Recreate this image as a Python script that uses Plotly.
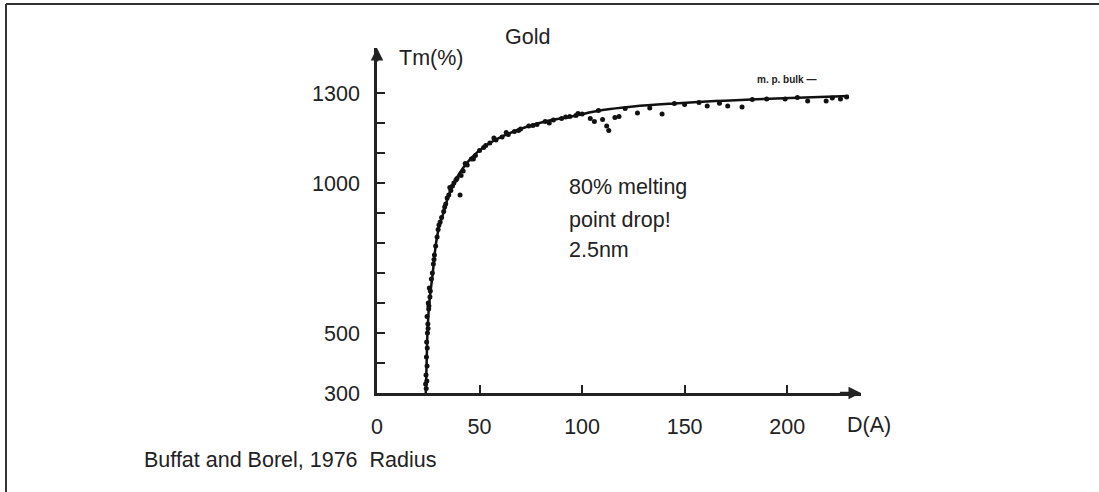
import plotly.graph_objects as go

# ---- data ----
curve_D = [23.8, 24.2, 24.6, 25.5, 27.2, 28.8, 30.5, 32.4, 34.5, 36.5, 40, 44, 48, 53, 58, 64,
           72, 82, 95, 110, 125, 145, 165, 185, 205, 230]
curve_T = [300, 400, 500, 600, 700, 800, 860, 900, 950, 985, 1030, 1068, 1097, 1124, 1145, 1164,
           1185, 1205, 1222, 1243, 1255, 1265, 1273, 1279, 1284, 1290]

pts_D = [24.0, 24.3, 23.9, 24.4, 24.1, 24.5, 24.2, 24.6, 24.8, 24.4, 25.2, 25.0, 25.8, 25.5, 26.5,
         27.0, 27.5, 28.0, 28.6, 29.3, 29.8, 30.8, 31.5, 32.5, 33.5, 34.2, 35.0, 36.0, 36.8, 37.5,
         40.5, 39.0, 41.0, 42.0, 44.0, 46.0, 48.0, 50.0, 52.0, 55.0, 58.0, 61.0, 64.0, 67.0, 70.0,
         74.0, 78.0, 82.0, 86.0, 90.0, 94.0, 97.0, 100.0, 104.0, 106.0, 110.0, 112.0, 113.0, 116.0,
         118.0, 127.0, 139.0, 150.0, 161.0, 167.0, 171.0, 178.0, 190.0, 199.0, 210.0, 219.0, 222.0,
         226.0, 229.0, 23.7, 24.9, 25.3, 26.0, 27.8, 30.2, 33.0, 35.5, 38.5, 43.0, 47.0, 53.0, 57.0,
         63.0, 69.0, 76.0, 84.0, 92.0, 98.0, 108.0, 121.0, 133.0, 145.0, 157.0, 183.0, 205.0]
pts_T = [315, 340, 360, 390, 420, 450, 470, 500, 530, 555, 580, 600, 620, 650, 680,
         700, 730, 760, 790, 820, 845, 870, 885, 905, 930, 950, 960, 975, 990, 1000,
         960, 1015, 1025, 1040, 1060, 1080, 1092, 1108, 1118, 1133, 1143, 1153, 1162, 1172, 1180,
         1190, 1195, 1205, 1210, 1215, 1222, 1225, 1230, 1215, 1205, 1212, 1190, 1175, 1218,
         1222, 1233, 1230, 1262, 1257, 1266, 1257, 1253, 1280, 1280, 1273, 1273, 1283,
         1280, 1287, 330, 515, 590, 640, 745, 860, 920, 985, 1010, 1065, 1080, 1125, 1150,
         1168, 1175, 1192, 1200, 1220, 1232, 1242, 1248, 1250, 1265, 1268, 1278, 1285]

y_tickvals = [300, 400, 500, 600, 700, 800, 900, 1000, 1100, 1200, 1300]
y_ticktext = ["300", "", "500", "", "", "", "", "1000", "", "", "1300"]
x_tickvals = [0, 50, 100, 150, 200]
x_ticktext = ["0", "50", "100", "150", "200"]

# ---- layout geometry (pixels) ----
W, H = 1099, 492
L, R, T, B = 377, 861, 48, 393


def px(x):
    return (x - L) / (R - L)


def py(y):
    return (B - y) / (B - T)


FONT = "Liberation Sans, Arial, sans-serif"
FS = 21.5
INK = "#222222"

fig = go.Figure()
fig.add_trace(go.Scatter(x=curve_D, y=curve_T, mode="lines",
                         line=dict(color="#111111", width=2.5, shape="spline", smoothing=1.0),
                         cliponaxis=False, showlegend=False))
fig.add_trace(go.Scatter(x=pts_D, y=pts_T, mode="markers",
                         marker=dict(color="#111111", size=5, symbol="circle"),
                         cliponaxis=False, showlegend=False))

fig.update_layout(
    width=W, height=H,
    margin=dict(l=L, r=W - R, t=T, b=H - B, pad=0),
    paper_bgcolor="white", plot_bgcolor="white",
    font=dict(family=FONT, size=FS, color=INK),
    xaxis=dict(range=[0, 236], showgrid=False, zeroline=False, showline=True,
               linecolor=INK, linewidth=2.5, ticks="inside", ticklen=8, tickwidth=2,
               tickcolor=INK, tickvals=x_tickvals, ticktext=x_ticktext,
               ticklabelstandoff=12, tickfont=dict(family=FONT, size=FS, color=INK)),
    yaxis=dict(range=[300, 1450], showgrid=False, zeroline=False, showline=True,
               linecolor=INK, linewidth=2.5, ticks="inside", ticklen=8, tickwidth=2,
               tickcolor=INK, tickvals=y_tickvals, ticktext=y_ticktext,
               ticklabelstandoff=10, tickfont=dict(family=FONT, size=FS, color=INK)),
)

ann = []
# axis arrows
ann.append(dict(x=236, y=300, ax=225, ay=300, xref="x", yref="y", axref="x", ayref="y",
                text="", showarrow=True, arrowhead=2, arrowsize=1, arrowwidth=2.5, arrowcolor=INK))
ann.append(dict(x=0, y=1450, ax=0, ay=1400, xref="x", yref="y", axref="x", ayref="y",
                text="", showarrow=True, arrowhead=2, arrowsize=1, arrowwidth=2.5, arrowcolor=INK))


def text(s, x, y, size=FS, xanchor="center", yanchor="middle", bold=False):
    ann.append(dict(text=("<b>%s</b>" % s) if bold else s, x=px(x), y=py(y), xref="paper", yref="paper",
                    xanchor=xanchor, yanchor=yanchor, showarrow=False,
                    font=dict(family=FONT, size=size, color=INK)))


text("Gold", 527, 37)
text("Tm(%)", 431, 58)
text("80% melting", 567, 187, xanchor="left")
text("point drop!", 567, 220, xanchor="left")
text("2.5nm", 567, 250, xanchor="left")
text("m. p. bulk \u2014", 755, 80, size=10, xanchor="left", bold=True)
text("D(A)", 869, 425)
text("Buffat and Borel, 1976\u00a0\u00a0Radius", 142, 460, xanchor="left")

fig.update_layout(annotations=ann)

# frame lines (left and top)
fig.add_shape(type="line", xref="paper", yref="paper", x0=px(6), x1=px(W), y0=py(4), y1=py(4),
              line=dict(color="#333333", width=2))
fig.add_shape(type="line", xref="paper", yref="paper", x0=px(6), x1=px(6), y0=py(4), y1=py(H),
              line=dict(color="#333333", width=2))

fig.write_html("out.html", config={"displayModeBar": False},
               post_script="document.body.style.margin='0px';")
